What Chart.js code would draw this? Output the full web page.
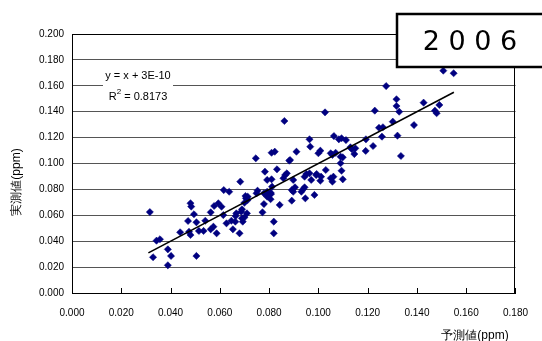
<!DOCTYPE html>
<html>
<head>
<meta charset="utf-8">
<script src="https://cdn.jsdelivr.net/npm/chart.js@4.4.1/dist/chart.umd.min.js"></script>
<style>
  html, body { margin: 0; padding: 0; background: #ffffff; }
  #wrap { position: relative; width: 542px; height: 341px; }
</style>
</head>
<body>
<div id="wrap"><canvas id="c" width="542" height="341"></canvas></div>
<script>
// ---- data ----
const predicted = [
  0.0316,0.0329,0.0343,0.0357,0.0389,0.0402,0.0389,0.0439,0.0505,0.0471,
  0.0481,0.0484,0.0495,0.0475,0.0481,0.0505,0.0515,0.0534,0.0541,0.0563,
  0.0563,0.0574,0.0587,0.0577,0.0594,0.0607,0.0616,0.0638,0.0627,0.0647,
  0.0653,0.0667,0.0664,0.0687,0.0690,0.0693,0.0700,0.0710,0.0690,0.0706,
  0.0680,0.0683,0.0704,0.0713,0.0700,0.0713,0.0753,0.0749,0.0779,0.0773,
  0.0792,0.0799,0.0806,0.0812,0.0819,0.0819,0.0779,0.0808,0.0792,0.0806,
  0.0843,0.0663,0.0614,0.0862,0.1027,0.0964,0.0967,0.1000,0.1008,0.1063,
  0.1050,0.0810,0.0823,0.0746,0.0911,0.0882,0.0832,0.0783,0.0792,0.0810,
  0.0858,0.0865,0.0898,0.0872,0.0892,0.0898,0.0905,0.0892,0.0931,0.0938,
  0.0944,0.0947,0.0964,0.0971,0.0991,0.1008,0.1011,0.0984,0.1030,0.1050,
  0.1057,0.1061,0.1083,0.1094,0.1112,0.1057,0.1070,0.1090,0.1094,0.1099,
  0.0993,0.0951,0.0944,0.0885,0.1507,0.1549,0.1275,0.1317,0.1317,0.1328,
  0.1229,0.1427,0.1491,0.1473,0.1480,0.1302,0.1388,0.1246,0.1262,0.1258,
  0.1321,0.1335,0.1193,0.1222,0.1192,0.1130,0.1136,0.1150,0.1146,0.1090,
  0.1099
];
const measured = [
  0.0625,0.0276,0.0404,0.0415,0.0337,0.0286,0.0214,0.0469,0.0286,0.0556,
  0.0693,0.0667,0.0608,0.0473,0.0448,0.0546,0.0479,0.0479,0.0558,0.0623,
  0.0492,0.0512,0.0461,0.0672,0.0693,0.0666,0.0795,0.0782,0.0538,0.0558,
  0.0492,0.0615,0.0594,0.0628,0.0577,0.0551,0.0584,0.0615,0.0646,0.0731,
  0.0461,0.0860,0.0749,0.0744,0.0697,0.0718,0.0790,0.0770,0.0687,0.0623,
  0.0782,0.0757,0.0775,0.0821,0.0551,0.0461,0.0770,0.0765,0.0744,0.0724,
  0.0680,0.0551,0.0602,0.1328,0.1395,0.1187,0.1130,0.1079,0.1099,0.1212,
  0.1079,0.1083,0.1091,0.1040,0.1091,0.1022,0.0955,0.0937,0.0873,0.0878,
  0.0886,0.0911,0.0873,0.0924,0.0795,0.0782,0.0816,0.0713,0.0782,0.0801,
  0.0816,0.0731,0.0924,0.0873,0.0911,0.0867,0.0898,0.0757,0.0950,0.0886,
  0.0860,0.0898,0.1187,0.1195,0.1181,0.1066,0.1083,0.1002,0.0944,0.0878,
  0.0919,0.0919,0.0898,0.1027,0.1717,0.1697,0.1598,0.1496,0.1444,0.1400,
  0.1408,0.1470,0.1452,0.1408,0.1388,0.1323,0.1297,0.1276,0.1280,0.1207,
  0.1215,0.1058,0.1187,0.1135,0.1097,0.1125,0.1110,0.1117,0.1073,0.1053,
  0.1048
];
// trend line y = slope * x + intercept, drawn over the range of predicted values
const trendSlope = 1;
const trendIntercept = 3e-10;
const trendRange = [0.031, 0.155];
const equationLines = ['y = x + 3E-10', 'R', '2', ' = 0.8173'];
const yearLabel = '2 0 0 6';
const xTitle = '予測値(ppm)';
const yTitle = '実測値(ppm)';

const points = predicted.map((x, i) => ({ x: x, y: measured[i] }));
const trend = trendRange.map(x => ({ x: x, y: trendSlope * x + trendIntercept }));

const FONT = '"Liberation Sans", Arial, sans-serif';

const annot = {
  id: 'annot',
  afterDraw(chart) {
    const ctx = chart.ctx;
    const ca = chart.chartArea;
    const xs = chart.scales.x;
    ctx.save();
    // plot frame
    ctx.strokeStyle = '#000';
    ctx.lineWidth = 1;
    ctx.strokeRect(Math.round(ca.left) + 0.5, Math.round(ca.top) + 0.5,
                   Math.round(ca.right - ca.left) - 1, Math.round(ca.bottom - ca.top));
    // inside tick marks on the x axis
    xs.ticks.forEach(t => {
      const px = Math.round(xs.getPixelForValue(t.value)) + 0.5;
      ctx.beginPath();
      ctx.moveTo(px, ca.bottom);
      ctx.lineTo(px, ca.bottom - 5);
      ctx.stroke();
    });
    // equation label
    ctx.fillStyle = '#fff';
    ctx.fillRect(103, 66, 70, 42);
    ctx.fillStyle = '#000';
    ctx.font = '11px ' + FONT;
    ctx.textAlign = 'center';
    ctx.textBaseline = 'middle';
    ctx.fillText(equationLines[0], 138, 76);
    const w1 = ctx.measureText(equationLines[1]).width;
    ctx.font = '8px ' + FONT;
    const w2 = ctx.measureText(equationLines[2]).width;
    ctx.font = '11px ' + FONT;
    const w3 = ctx.measureText(equationLines[3]).width;
    let sx = 138 - (w1 + w2 + w3) / 2;
    ctx.textAlign = 'left';
    ctx.fillText(equationLines[1], sx, 97);
    ctx.font = '8px ' + FONT;
    ctx.fillText(equationLines[2], sx + w1, 92);
    ctx.font = '11px ' + FONT;
    ctx.fillText(equationLines[3], sx + w1 + w2, 97);
    // year box
    ctx.fillStyle = '#fff';
    ctx.fillRect(397, 14, 150, 53);
    ctx.strokeStyle = '#000';
    ctx.lineWidth = 2.5;
    ctx.strokeRect(397, 14, 150, 53);
    ctx.fillStyle = '#000';
    ctx.font = '27px "DejaVu Sans", sans-serif';
    ctx.textAlign = 'center';
    ctx.textBaseline = 'middle';
    ctx.fillText(yearLabel, 470, 43);
    // axis titles
    ctx.font = '12px ' + FONT;
    ctx.fillText(xTitle, 475, 336);
    ctx.translate(17, 182);
    ctx.rotate(-Math.PI / 2);
    ctx.fillText(yTitle, 0, 0);
    ctx.restore();
  }
};

new Chart(document.getElementById('c'), {
  type: 'scatter',
  data: {
    datasets: [
      {
        type: 'line',
        label: 'trend',
        data: trend,
        borderColor: '#000',
        borderWidth: 1.6,
        pointRadius: 0,
        fill: false,
        order: 0
      },
      {
        label: 'data',
        data: points,
        pointStyle: 'rectRot',
        pointRadius: 3.6,
        backgroundColor: '#000080',
        borderColor: '#000080',
        borderWidth: 0.5,
        order: 1
      }
    ]
  },
  options: {
    responsive: false,
    animation: false,
    events: [],
    layout: { padding: { left: 0, right: 16, top: 34, bottom: 0 } },
    plugins: { legend: { display: false }, tooltip: { enabled: false }, title: { display: false } },
    scales: {
      x: {
        type: 'linear',
        min: 0, max: 0.18,
        afterFit: s => { s.height = 48; },
        ticks: {
          stepSize: 0.02,
          padding: 14,
          color: '#000',
          font: { family: FONT, size: 10 },
          callback: v => Number(v).toFixed(3),
          maxRotation: 0
        },
        grid: { drawOnChartArea: false, drawTicks: false },
        border: { color: '#000', width: 1 }
      },
      y: {
        type: 'linear',
        min: 0, max: 0.2,
        afterFit: s => { s.width = 72; },
        ticks: {
          stepSize: 0.02,
          padding: 8,
          color: '#000',
          font: { family: FONT, size: 10 },
          callback: v => Number(v).toFixed(3)
        },
        grid: { color: '#555', lineWidth: 1, drawTicks: false },
        border: { color: '#000', width: 1 }
      }
    }
  },
  plugins: [annot]
});
</script>
</body>
</html>
